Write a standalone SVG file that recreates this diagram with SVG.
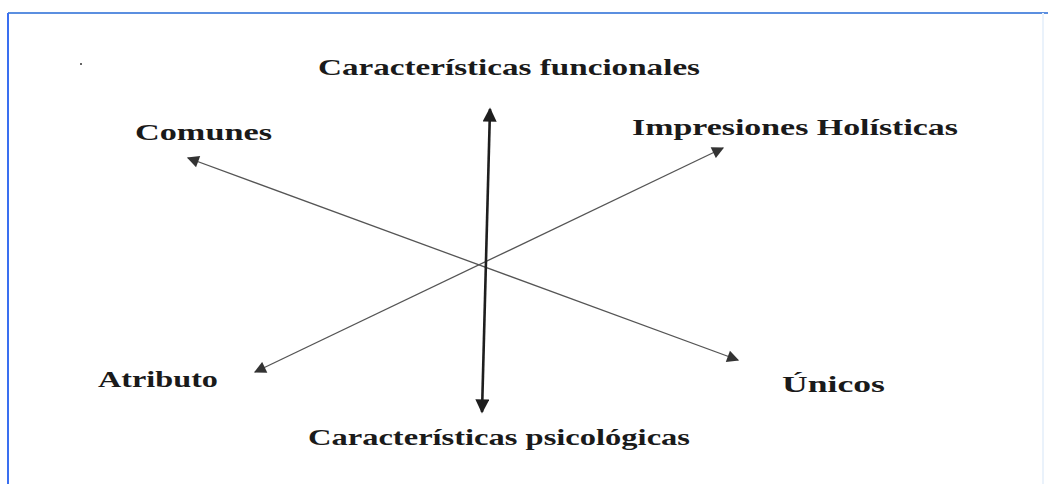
<svg xmlns="http://www.w3.org/2000/svg" width="1048" height="484" viewBox="0 0 1048 484">
<style>
.lbl{font-family:"Liberation Serif","Times New Roman",serif;font-weight:bold;font-size:23px;fill:#1a1a1a}
.diag{stroke:#555;stroke-width:1.3;fill:none}
.vert{stroke:#1e1e1e;stroke-width:2.6;fill:none}
</style>
<defs>
<marker id="ah" viewBox="0 0 10 10" refX="9" refY="5" markerWidth="14" markerHeight="12" markerUnits="userSpaceOnUse" orient="auto-start-reverse">
<path d="M0,0 L10,5 L0,10 z" fill="#333"/>
</marker>
<marker id="ahv" viewBox="0 0 10 10" refX="9" refY="5" markerWidth="16" markerHeight="14" markerUnits="userSpaceOnUse" orient="auto-start-reverse">
<path d="M0,0 L10,5 L0,10 z" fill="#1e1e1e"/>
</marker>
</defs>
<rect x="0" y="0" width="1048" height="484" fill="#fff"/>
<g id="frame">
<line x1="8" y1="13" x2="1048" y2="13" stroke="#5b8fe0" stroke-width="2"/>
<line x1="8" y1="13" x2="8" y2="484" stroke="#3a6ff0" stroke-width="2"/>
<line x1="1043" y1="13" x2="1043" y2="484" stroke="#eaf2fb" stroke-width="2"/>
<circle cx="81" cy="64" r="1" fill="#333"/>
</g>
<g id="connectors">
<line class="diag" x1="188" y1="158" x2="738" y2="360" marker-start="url(#ah)" marker-end="url(#ah)"/>
<line class="diag" x1="255" y1="372" x2="723" y2="148" marker-start="url(#ah)" marker-end="url(#ah)"/>
<line class="vert" x1="490" y1="109" x2="482" y2="412" marker-start="url(#ahv)" marker-end="url(#ahv)"/>
</g>
<g id="n-funcionales"><text class="lbl" x="318" y="75" textLength="382" lengthAdjust="spacingAndGlyphs">Características funcionales</text></g>
<g id="n-comunes"><text class="lbl" x="135" y="140" textLength="137" lengthAdjust="spacingAndGlyphs">Comunes</text></g>
<g id="n-holisticas"><text class="lbl" x="632" y="135" textLength="326" lengthAdjust="spacingAndGlyphs">Impresiones Holísticas</text></g>
<g id="n-atributo"><text class="lbl" x="98" y="387" textLength="120" lengthAdjust="spacingAndGlyphs">Atributo</text></g>
<g id="n-unicos"><text class="lbl" x="782" y="392" textLength="103" lengthAdjust="spacingAndGlyphs">Únicos</text></g>
<g id="n-psicologicas"><text class="lbl" x="308" y="445" textLength="382" lengthAdjust="spacingAndGlyphs">Características psicológicas</text></g>
</svg>
